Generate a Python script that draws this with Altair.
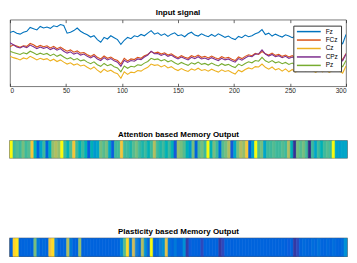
import altair as alt
import pandas as pd

# ---------------- data ----------------
t = list(range(0, 301, 3))
fz = [162, 166, 160, 157, 163, 166, 178, 174, 170, 181, 176, 179, 175, 183, 180, 187, 184, 160, 163, 168,
      176, 166, 160, 155, 148, 152, 140, 132, 147, 142, 152, 146, 140, 125, 138, 147, 143, 152, 149, 156,
      152, 160, 168, 157, 161, 153, 158, 150, 157, 161, 152, 155, 149, 158, 163, 154, 151, 158, 153, 149,
      156, 150, 158, 153, 147, 151, 144, 140, 150, 146, 154, 149, 152, 158, 162, 171, 156, 160, 151, 157,
      152, 148, 155, 151, 146, 152, 149, 145, 152, 157, 150, 154, 148, 156, 159, 151, 147, 152, 138, 127,
      156]
fcz = [118, 124, 120, 116, 121, 119, 128, 124, 117, 122, 118, 121, 114, 119, 112, 117, 110, 104, 108, 101,
       105, 98, 100, 93, 88, 94, 85, 80, 89, 82, 86, 79, 75, 64, 82, 74, 80, 78, 85, 82,
       90, 94, 103, 98, 101, 95, 99, 92, 96, 89, 84, 90, 85, 82, 90, 86, 92, 85, 88, 83,
       89, 84, 80, 87, 82, 85, 79, 75, 86, 81, 88, 93, 90, 97, 94, 103, 96, 92, 98, 91,
       94, 88, 92, 86, 90, 84, 89, 92, 87, 93, 88, 85, 91, 86, 90, 84, 88, 93, 86, 78,
       97]
cz = [88, 84, 81, 77, 83, 80, 88, 83, 77, 82, 78, 81, 74, 79, 72, 77, 70, 64, 68, 61,
      65, 58, 61, 54, 48, 55, 45, 38, 48, 41, 45, 38, 34, 20, 40, 32, 39, 37, 44, 42,
      49, 54, 64, 60, 62, 55, 60, 52, 56, 49, 44, 50, 45, 41, 49, 45, 51, 44, 47, 42,
      48, 43, 39, 46, 41, 44, 38, 33, 45, 40, 47, 52, 49, 56, 55, 64, 54, 48, 55, 46,
      50, 42, 49, 40, 47, 39, 46, 51, 42, 50, 44, 38, 47, 40, 46, 38, 44, 52, 43, 36,
      58]
cpz = [130, 124, 117, 114, 119, 115, 123, 118, 112, 117, 113, 116, 109, 114, 107, 112, 104, 98, 102, 95,
       99, 92, 95, 88, 83, 89, 80, 75, 84, 77, 81, 74, 70, 57, 76, 69, 75, 73, 80, 78,
       86, 92, 104, 96, 97, 91, 95, 88, 92, 85, 80, 86, 81, 77, 85, 81, 87, 80, 83, 78,
       84, 79, 75, 82, 77, 80, 74, 70, 81, 76, 83, 89, 87, 95, 96, 108, 95, 89, 94, 87,
       90, 84, 88, 82, 86, 80, 86, 90, 84, 91, 86, 82, 88, 83, 87, 81, 85, 91, 84, 74,
       95]
pz = [104, 100, 97, 94, 99, 96, 104, 99, 93, 98, 94, 97, 90, 95, 88, 93, 86, 80, 84, 77,
      81, 74, 77, 70, 65, 71, 62, 57, 66, 59, 63, 56, 52, 40, 58, 51, 57, 55, 62, 60,
      67, 72, 82, 78, 80, 74, 78, 71, 75, 68, 63, 69, 64, 60, 68, 64, 70, 63, 66, 61,
      67, 62, 58, 65, 60, 63, 57, 53, 64, 59, 66, 71, 68, 75, 73, 85, 74, 69, 75, 68,
      71, 65, 69, 63, 67, 61, 66, 70, 64, 71, 66, 62, 68, 63, 67, 61, 65, 71, 64, 56,
      75]

series_names = ["Fz", "FCz", "Cz", "CPz", "Pz"]
series_values = [fz, fcz, cz, cpz, pz]
series_colors = ["#0072BD", "#D95319", "#EDB120", "#7E2F8E", "#77AC30"]
tick_values = [0, 50, 100, 150, 200, 250, 300]

attention = [1.0, 0.52, 0.55, 0.52, 0.6, 0.52, 0.55, 0.85, 0.45, 0.15,
             0.38, 0.52, 0.15, 0.45, 0.65, 0.7, 0.65, 1.0, 0.52, 0.45,
             0.55, 0.85, 0.52, 0.45, 0.52, 0.45, 0.13, 0.45, 0.33, 0.38,
             0.6, 0.55, 0.6, 0.4, 0.13, 0.52, 0.52, 0.85, 0.52, 0.52,
             0.48, 0.55, 0.6, 0.52, 0.48, 0.52, 0.45, 0.52, 0.7, 0.52,
             0.48, 0.52, 0.45, 0.52, 0.45, 0.12, 0.65, 0.6, 0.55, 0.45,
             0.33, 0.6, 0.15, 0.55, 0.6, 0.52, 1.0, 0.45, 0.6, 0.52,
             0.2, 0.55, 0.6, 0.7, 0.12, 0.38, 0.6, 0.7, 0.65, 0.85,
             0.15, 0.38, 1.0, 0.55, 0.6, 0.38, 0.52, 0.52, 0.55, 0.52,
             0.52, 0.55, 0.52, 0.7, 0.45, 0.02, 0.6, 0.55, 0.6, 0.52,
             0.0, 0.52, 0.38, 0.52, 0.45, 0.52, 0.55, 0.52, 1.0, 0.38,
             0.35, 0.38, 0.38]
plasticity = [0.15, 0.9, 0.95, 0.15, 0.15, 0.16, 0.15, 0.15, 0.6, 0.22,
              0.15, 0.17, 0.15, 0.85, 0.92, 0.25, 0.15, 0.15, 0.16, 0.7,
              0.22, 0.15, 0.15, 0.65, 0.15, 0.15, 0.15, 0.15, 0.15, 0.15,
              0.15, 0.15, 0.15, 0.15, 0.15, 0.15, 0.15, 0.28, 0.55, 0.92,
              0.22, 0.75, 0.25, 0.17, 0.7, 0.3, 0.15, 1.0, 0.15, 0.17,
              0.25, 0.3, 0.8, 0.2, 0.15, 0.22, 0.15, 0.16, 0.3, 0.05,
              0.13, 0.15, 0.15, 0.14, 0.08, 0.15, 0.15, 0.15, 0.15, 0.15,
              0.04, 0.08, 0.15, 0.15, 0.14, 0.15, 0.15, 0.15, 0.15, 0.15,
              0.15, 0.15, 0.15, 0.15, 0.15, 0.15, 0.15, 0.15, 0.15, 0.15,
              0.15, 0.15, 0.14, 0.13, 0.15, 0.04, 0.08, 0.15, 0.17, 0.16,
              0.15, 0.18, 0.16, 0.2, 0.16, 0.15, 0.17, 0.15, 0.18, 0.16,
              0.15, 0.17, 0.3]

parula = ["#352A87", "#0F5CDD", "#1481D6", "#06A4CA", "#2EB7A4",
          "#87BF77", "#D1BB59", "#FEC832", "#F9FB0E"]

# ---------------- tables ----------------
rows = []
for k, (name, vals) in enumerate(zip(series_names, series_values)):
    for ti, v in zip(t, vals):
        rows.append({"t": ti, "v": v, "series": name, "k": k})
sig = pd.DataFrame(rows)

att = pd.DataFrame({"i": list(range(len(attention))), "val": attention})
pla = pd.DataFrame({"i": list(range(len(plasticity))), "val": plasticity})

FONT = "Liberation Sans"
W = 338

xscale = alt.Scale(domain=[0, 300], nice=False, zero=False)
yscale = alt.Scale(domain=[-5, 202], nice=False, zero=False)

lines = alt.Chart(sig).mark_line(strokeWidth=1.1, clip=True).encode(
    x=alt.X("t:Q", scale=xscale, title=None,
            axis=alt.Axis(values=tick_values, orient="bottom", offset=-3, tickSize=3,
                          domain=False, grid=False, labelFlush=True, labelPadding=1,
                          labelFontSize=6.5, labelFont=FONT, labelColor="#262626",
                          tickColor="#262626", tickWidth=0.7)),
    y=alt.Y("v:Q", scale=yscale, axis=None),
    color=alt.Color("series:N", title=None,
                    scale=alt.Scale(domain=series_names, range=series_colors),
                    legend=alt.Legend(orient="none", legendX=285, legendY=6,
                                      fillColor="white", strokeColor="#333333",
                                      padding=2.5, labelFontSize=6.5, labelFont=FONT,
                                      labelColor="#000000",
                                      symbolType="M-1,0H9", symbolSize=23,
                                      symbolStrokeWidth=1.5, labelOffset=23,
                                      rowPadding=1.5)),
    order=alt.Order("k:Q"),
)

topticks = alt.Chart(sig).mark_line(opacity=0).encode(
    x=alt.X("t:Q", scale=xscale, title=None,
            axis=alt.Axis(values=tick_values, orient="top", offset=-3, tickSize=3,
                          domain=False, grid=False, labels=False,
                          tickColor="#262626", tickWidth=0.7)),
    y=alt.Y("v:Q", scale=yscale, axis=None),
)

signal = alt.layer(lines, topticks).resolve_axis(x="independent").properties(
    width=W, height=67,
    title=alt.TitleParams("Input signal", fontSize=8, font=FONT, fontWeight="bold",
                          offset=2, color="#000000"),
    view=alt.ViewBackground(stroke="#5a5a5a", strokeWidth=0.8),
)

pscale = alt.Scale(domain=[0, 1], range=parula)


def strip(df, title, h):
    return alt.Chart(df).mark_rect(strokeWidth=0.6).transform_calculate(i2="datum.i + 1").encode(
        x=alt.X("i:Q", scale=alt.Scale(domain=[0, len(df)], nice=False, zero=False), axis=None),
        x2="i2:Q",
        color=alt.Color("val:Q", scale=pscale, legend=None),
        stroke=alt.Stroke("val:Q", scale=pscale, legend=None),
    ).properties(
        width=339, height=h,
        title=alt.TitleParams(title, fontSize=8, font=FONT, fontWeight="bold",
                              offset=2, color="#000000"),
        view=alt.ViewBackground(stroke="#5f5f5f", strokeWidth=1.5),
    )


s1 = strip(att, "Attention based Memory Output", 17)
s2 = strip(pla, "Plasticity based Memory Output", 18)

chart = alt.vconcat(
    alt.vconcat(signal, s1, spacing=35),
    s2,
    spacing=67,
).properties(padding=0, background="white")

chart.save("out.html", embed_options={"renderer": "svg", "actions": False})
